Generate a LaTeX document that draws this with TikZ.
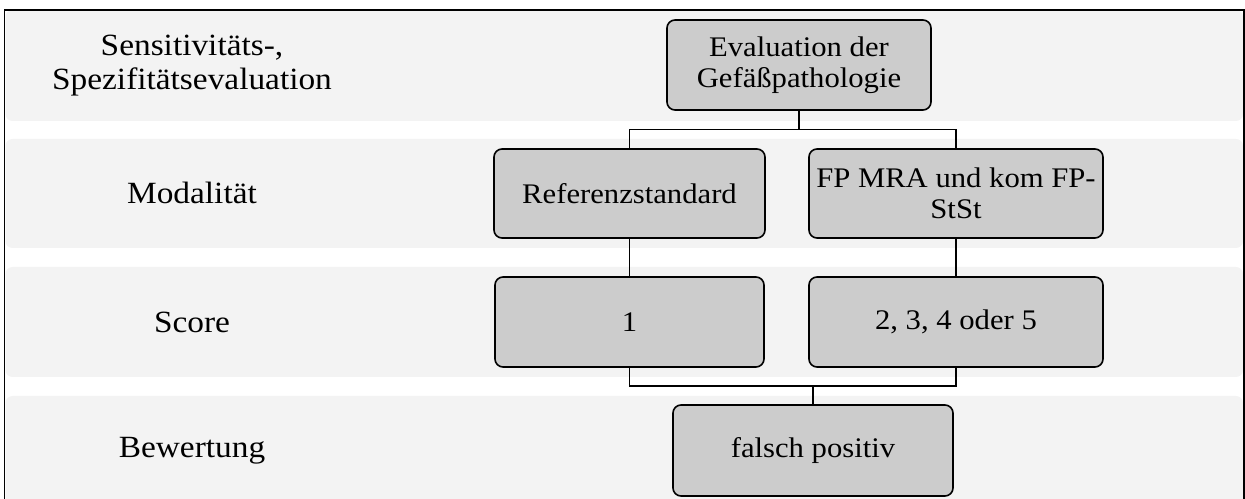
\documentclass[tikz,border=0pt]{standalone}
\usepackage{fontspec}
\setmainfont{Liberation Serif}[FakeStretch=1.08]
\definecolor{bandgray}{HTML}{F3F3F3}
\definecolor{boxgray}{HTML}{CCCCCC}
\begin{document}
\begin{tikzpicture}[x=1bp,y=-1bp,
  band/.style={fill=bandgray, rounded corners=7bp},
  stepbox/.style={draw=black, line width=1.6bp, fill=boxgray, rounded corners=8bp,
    align=center, inner sep=0pt, font=\fontsize{28.5}{31}\selectfont},
  rowlabel/.style={align=center, inner sep=0pt, font=\fontsize{31}{34}\selectfont},
  link/.style={draw=black, line width=1.4bp}]
\useasboundingbox (0,0) rectangle (1245,499);
\clip (0,0) rectangle (1245,499);
% row bands
\fill[band] (5.5,10) rectangle (1243,121);
\fill[band] (5.5,139) rectangle (1243,248);
\fill[band] (5.5,267) rectangle (1243,377);
\fill[band] (5.5,396) rectangle (1243,506);
% frame
\draw[line width=1.6bp] (4.5,530) -- (4.5,10) -- (1244,10) -- (1244,530);
% row labels
\node[rowlabel] (l1) at (192,66) {Sensitivitäts-,\\Spezifitätsevaluation};
\node[rowlabel] (l2) at (192,193) {Modalität};
\node[rowlabel] (l3) at (192,322) {Score};
\node[rowlabel] (l4) at (192,451) {Bewertung};
% boxes
\node[stepbox, minimum width=264bp, minimum height=90bp] (top) at (799,65) {Evaluation der\\Gefäßpathologie};
\node[stepbox, minimum width=271bp, minimum height=89bp] (ref) at (629.5,193.5) {Referenzstandard};
\node[stepbox, minimum width=294bp, minimum height=89bp] (fp) at (956,193.5) {FP MRA und kom FP-\\StSt};
\node[stepbox, minimum width=269bp, minimum height=90bp] (s1) at (629.5,322) {1};
\node[stepbox, minimum width=294bp, minimum height=90bp] (s2) at (956,322) {2, 3, 4 oder 5};
\node[stepbox, minimum width=280bp, minimum height=91bp] (fpos) at (813,450.5) {falsch positiv};
% connectors
\draw[link] (top.south) -- ++(0,19) coordinate (bus1);
\draw[link] (bus1) -| (ref.north);
\draw[link] (bus1) -| (fp.north);
\draw[link] (ref.south) -- (s1.north);
\draw[link] (fp.south) -- (s2.north);
\draw[link] (s1.south) -- ++(0,18) coordinate (bus2) -| (s2.south);
\draw[link] (fpos.north) -- (fpos.north |- bus2);
\end{tikzpicture}
\end{document}
